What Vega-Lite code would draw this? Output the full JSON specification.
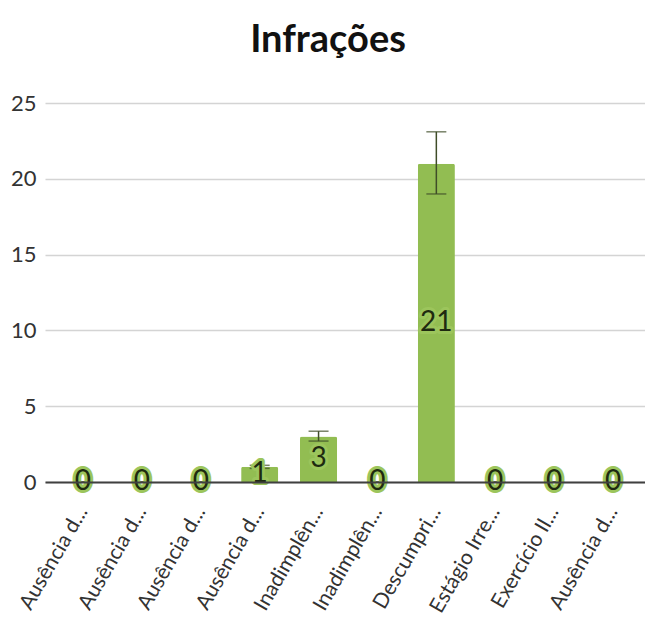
{
  "$schema": "https://vega.github.io/schema/vega-lite/v6.json",
  "autosize": {"type": "none"},
  "padding": {"left": 45, "top": 103, "right": 0, "bottom": 150},
  "width": 606,
  "height": 379,
  "background": "white",
  "title": {
    "text": "Infrações",
    "font": "Lato",
    "fontSize": 38,
    "fontWeight": "bold",
    "color": "#111111",
    "anchor": "middle",
    "dx": -20,
    "baseline": "alphabetic",
    "offset": 2
  },
  "data": {
    "values": [
      {"cat": "Ausência d...|1", "value": 0, "low": 0, "high": 0},
      {"cat": "Ausência d...|2", "value": 0, "low": 0, "high": 0},
      {"cat": "Ausência d...|3", "value": 0, "low": 0, "high": 0},
      {"cat": "Ausência d...|4", "value": 1, "low": 0.9, "high": 1.1},
      {"cat": "Inadimplên...|5", "value": 3, "low": 2.7, "high": 3.35},
      {"cat": "Inadimplên...|6", "value": 0, "low": 0, "high": 0},
      {"cat": "Descumpri...|7", "value": 21, "low": 19, "high": 23.1},
      {"cat": "Estágio Irre...|8", "value": 0, "low": 0, "high": 0},
      {"cat": "Exercício Il...|9", "value": 0, "low": 0, "high": 0},
      {"cat": "Ausência d...|10", "value": 0, "low": 0, "high": 0}
    ]
  },
  "transform": [{"calculate": "datum.value / 2", "as": "mid"}],
  "encoding": {
    "x": {
      "field": "cat",
      "type": "nominal",
      "sort": null,
      "scale": {"paddingInner": 0.37, "paddingOuter": 0.33},
      "axis": {
        "title": null,
        "labelExpr": "split(datum.label, '|')[0]",
        "labelAngle": -60,
        "labelAlign": "right",
        "labelBaseline": "middle",
        "labelPadding": 26,
        "labelFont": "Lato",
        "labelFontSize": 21,
        "labelColor": "#333333",
        "labelLimit": 300,
        "ticks": false,
        "domain": true,
        "domainColor": "#404040",
        "domainWidth": 2,
        "grid": false,
        "zindex": 1
      }
    }
  },
  "layer": [
    {
      "mark": {"type": "bar", "color": "#92BD52", "cornerRadiusTopLeft": 2, "cornerRadiusTopRight": 2},
      "encoding": {
        "y": {
          "field": "value",
          "type": "quantitative",
          "scale": {"domain": [0, 25], "nice": false},
          "axis": {
            "title": null,
            "values": [0, 5, 10, 15, 20, 25],
            "grid": true,
            "gridColor": "#d4d4d4",
            "gridWidth": 1.5,
            "domain": false,
            "ticks": false,
            "labelPadding": 9,
            "labelFont": "Lato",
            "labelFontSize": 22,
            "labelColor": "#333333"
          }
        }
      }
    },
    {
      "mark": {"type": "rule", "color": "#3f4d28", "strokeWidth": 1.5},
      "encoding": {
        "y": {"field": "low", "type": "quantitative"},
        "y2": {"field": "high"}
      }
    },
    {
      "mark": {"type": "tick", "color": "#3f4d28", "thickness": 1.5, "size": 20, "orient": "horizontal"},
      "encoding": {"y": {"field": "low", "type": "quantitative"}}
    },
    {
      "mark": {"type": "tick", "color": "#3f4d28", "thickness": 1.5, "size": 20, "orient": "horizontal"},
      "encoding": {"y": {"field": "high", "type": "quantitative"}}
    },
    {
      "mark": {
        "type": "text",
        "font": "Lato",
        "fontSize": 28,
        "baseline": "middle",
        "align": "center",
        "stroke": "#9cc55c",
        "strokeWidth": 6,
        "strokeJoin": "round",
        "fill": "#9cc55c"
      },
      "encoding": {
        "y": {"field": "mid", "type": "quantitative"},
        "text": {"field": "value", "type": "quantitative"}
      }
    },
    {
      "mark": {
        "type": "text",
        "font": "Lato",
        "fontSize": 28,
        "baseline": "middle",
        "align": "center",
        "fill": "#1e2a10"
      },
      "encoding": {
        "y": {"field": "mid", "type": "quantitative"},
        "text": {"field": "value", "type": "quantitative"}
      }
    }
  ],
  "config": {"view": {"stroke": null}}
}
